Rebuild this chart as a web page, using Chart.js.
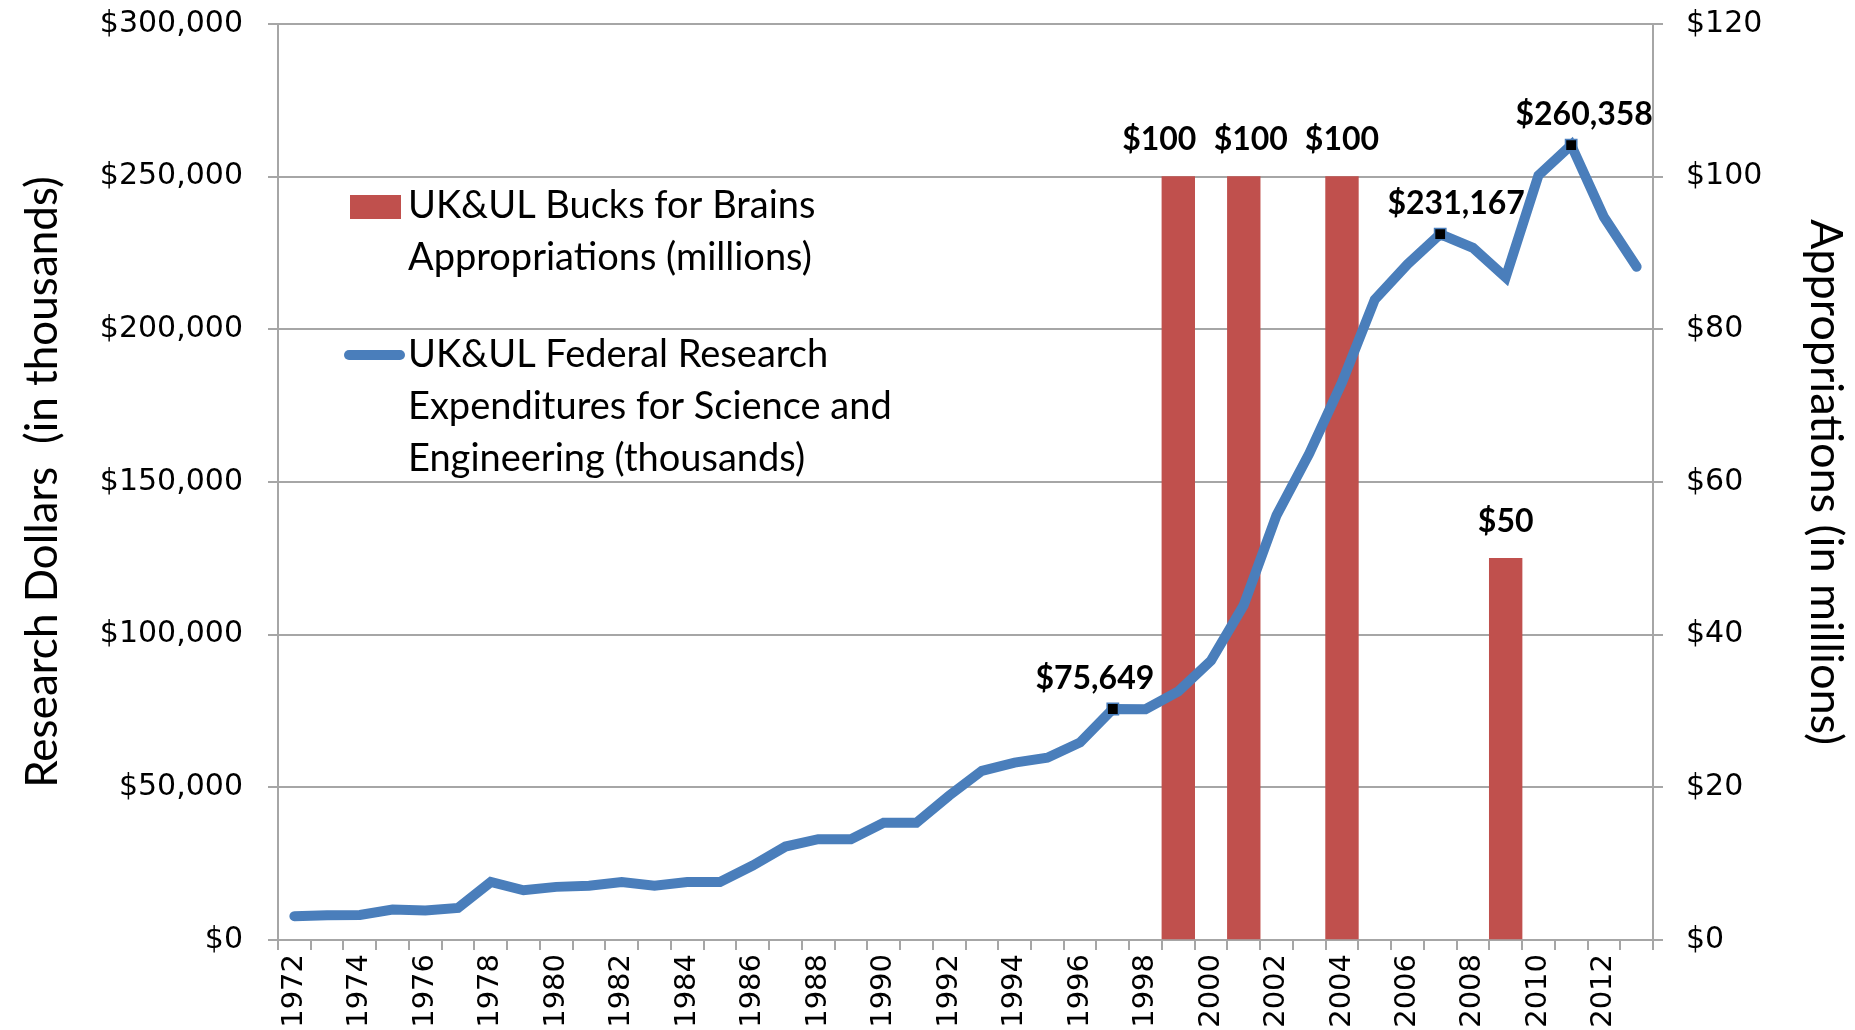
<!DOCTYPE html>
<html>
<head>
<meta charset="utf-8">
<script src="https://cdn.jsdelivr.net/npm/chart.js@4.4.1/dist/chart.umd.min.js"></script>
<style>
    body { margin: 0; background: #ffffff; }
    #grafico { display: block; }
</style>
</head>
<body>
<canvas id="grafico" width="1855" height="1030"></canvas>
<script>
const anos = [1972, 1973, 1974, 1975, 1976, 1977, 1978, 1979, 1980, 1981,
    1982, 1983, 1984, 1985, 1986, 1987, 1988, 1989, 1990, 1991,
    1992, 1993, 1994, 1995, 1996, 1997, 1998, 1999, 2000, 2001,
    2002, 2003, 2004, 2005, 2006, 2007, 2008, 2009, 2010, 2011,
    2012, 2013];

// despesas federais de pesquisa (milhares)
const despesas = [7800, 8100, 8200, 10000, 9700, 10500, 19000, 16300, 17400, 17800,
    19000, 17800, 19000, 19000, 24400, 30600, 33000, 33000, 38400, 38400,
    47300, 55400, 58100, 59700, 64700, 75649, 75600, 81400, 91500, 109700,
    139100, 159300, 182600, 209700, 221300, 231167, 226700, 217000, 250400, 260358,
    236800, 220500];

// Bucks for Brains (milhoes)
const apropriacoes = [null, null, null, null, null, null, null, null, null, null,
    null, null, null, null, null, null, null, null, null, null,
    null, null, null, null, null, null, null, 100, null, 100,
    null, null, 100, null, null, null, null, 50, null, null,
    null, null];

const anosDestacados = [1997, 2007, 2011];

const ticksEsquerda = [0, 50000, 100000, 150000, 200000, 250000, 300000];
const ticksDireita = [0, 20, 40, 60, 80, 100, 120];

const legendaBarras = ["UK&UL Bucks for Brains", "Appropriations (millions)"];
const legendaLinha = ["UK&UL Federal Research", "Expenditures for Science and", "Engineering (thousands)"];

const corLinha = "#4A7EBB";
const corBarra = "#C0504D";
const corGrade = "#A6A6A6";

function dinheiro(v) {
    return "$" + v.toLocaleString("en-US");
}

const rotulosPlugin = {
    id: "rotulos",
    afterDatasetsDraw(chart) {
        const ctx = chart.ctx;
        ctx.save();
        ctx.font = "bold 32px Lato";
        ctx.fillStyle = "#000000";
        ctx.textAlign = "center";
        ctx.textBaseline = "middle";

        // pequenos ajustes horizontais como no original
        const ajuste = { 1999: -19, 2001: 7, 1997: -18, 2007: 16, 2011: 13 };

        const barras = chart.getDatasetMeta(1).data;
        barras.forEach((barra, i) => {
            if (apropriacoes[i] == null) return;
            ctx.fillText(dinheiro(apropriacoes[i]), barra.x + (ajuste[anos[i]] || 0), barra.y - 37);
        });

        const pontos = chart.getDatasetMeta(0).data;
        anosDestacados.forEach(ano => {
            const i = anos.indexOf(ano);
            const p = pontos[i];
            ctx.fillText(dinheiro(despesas[i]), p.x + (ajuste[ano] || 0), p.y - 30);
        });
        ctx.restore();
    },
    afterDraw(chart) {
        const ctx = chart.ctx;
        const area = chart.chartArea;
        const x0 = area.left + 72;
        const xTexto = area.left + 130;
        ctx.save();
        ctx.font = "38px Lato";
        ctx.textAlign = "left";
        ctx.textBaseline = "middle";

        ctx.fillStyle = corBarra;
        ctx.fillRect(x0, area.top + 171, 51, 24);
        ctx.fillStyle = "#000000";
        legendaBarras.forEach((linha, i) => {
            ctx.fillText(linha, xTexto, area.top + 182 + i * 52);
        });

        ctx.strokeStyle = corLinha;
        ctx.lineWidth = 10;
        ctx.lineCap = "round";
        ctx.beginPath();
        ctx.moveTo(x0 - 1, area.top + 331);
        ctx.lineTo(x0 + 50, area.top + 331);
        ctx.stroke();
        legendaLinha.forEach((linha, i) => {
            ctx.fillText(linha, xTexto, area.top + 331 + i * 52);
        });
        ctx.restore();
    }
};

window.onload = () => {
    const grafico = document.getElementById("grafico");

    new Chart(grafico, {
        type: "bar",
        data: {
            labels: anos.map(String),
            datasets: [
                {
                    type: "line",
                    label: legendaLinha.join(" "),
                    data: despesas,
                    yAxisID: "y",
                    borderColor: corLinha,
                    borderWidth: 10,
                    borderCapStyle: "round",
                    borderJoinStyle: "miter",
                    tension: 0,
                    pointStyle: "rect",
                    pointRadius: anos.map(a => anosDestacados.includes(a) ? 8 : 0),
                    pointBackgroundColor: "#000000",
                    pointBorderColor: corLinha,
                    pointBorderWidth: 1.5,
                    order: 0
                },
                {
                    label: legendaBarras.join(" "),
                    data: apropriacoes,
                    yAxisID: "y1",
                    backgroundColor: corBarra,
                    barPercentage: 1,
                    categoryPercentage: 1,
                    order: 1
                }
            ]
        },
        options: {
            responsive: false,
            animation: false,
            devicePixelRatio: 1,
            layout: {
                padding: { top: 24, left: 0, right: 0, bottom: 0 }
            },
            plugins: {
                legend: { display: false },
                tooltip: { enabled: false }
            },
            scales: {
                x: {
                    offset: true,
                    grid: {
                        offset: true,
                        drawOnChartArea: false,
                        color: corGrade,
                        lineWidth: 2,
                        tickLength: 10
                    },
                    border: { color: corGrade, width: 2 },
                    ticks: {
                        autoSkip: false,
                        minRotation: 90,
                        maxRotation: 90,
                        padding: 4,
                        color: "#000000",
                        font: { family: "DejaVu Sans", size: 29 },
                        callback: function (valor, indice) {
                            return indice % 2 === 0 ? anos[indice] : "";
                        }
                    },
                    afterFit(scale) {
                        scale.height = 90;
                    }
                },
                y: {
                    position: "left",
                    min: ticksEsquerda[0],
                    max: ticksEsquerda[ticksEsquerda.length - 1],
                    afterBuildTicks(scale) {
                        scale.ticks = ticksEsquerda.map(v => ({ value: v }));
                    },
                    grid: {
                        color: corGrade,
                        lineWidth: 2,
                        tickLength: 10
                    },
                    border: { color: corGrade, width: 2 },
                    ticks: {
                        padding: 25,
                        color: "#000000",
                        font: { family: "DejaVu Sans", size: 30 },
                        callback: v => dinheiro(v)
                    },
                    title: {
                        display: true,
                        text: "Research Dollars  (in thousands)",
                        color: "#000000",
                        font: { family: "Lato", size: 44 },
                        padding: { top: 16, bottom: 0 }
                    },
                    afterFit(scale) {
                        scale.width = 278;
                        scale.paddingTop = 0;
                        scale.paddingBottom = 0;
                    }
                },
                y1: {
                    position: "right",
                    min: ticksDireita[0],
                    max: ticksDireita[ticksDireita.length - 1],
                    afterBuildTicks(scale) {
                        scale.ticks = ticksDireita.map(v => ({ value: v }));
                    },
                    grid: {
                        drawOnChartArea: false,
                        color: corGrade,
                        lineWidth: 2,
                        tickLength: 10
                    },
                    border: { color: corGrade, width: 2 },
                    ticks: {
                        padding: 23,
                        color: "#000000",
                        font: { family: "DejaVu Sans", size: 30 },
                        callback: v => dinheiro(v)
                    },
                    title: {
                        display: true,
                        text: "Appropriations (in millions)",
                        color: "#000000",
                        font: { family: "Lato", size: 45 },
                        padding: { top: 2, bottom: 0 }
                    },
                    afterFit(scale) {
                        scale.width = 202;
                        scale.paddingTop = 0;
                        scale.paddingBottom = 0;
                    }
                }
            }
        },
        plugins: [rotulosPlugin]
    });
};
</script>
</body>
</html>
